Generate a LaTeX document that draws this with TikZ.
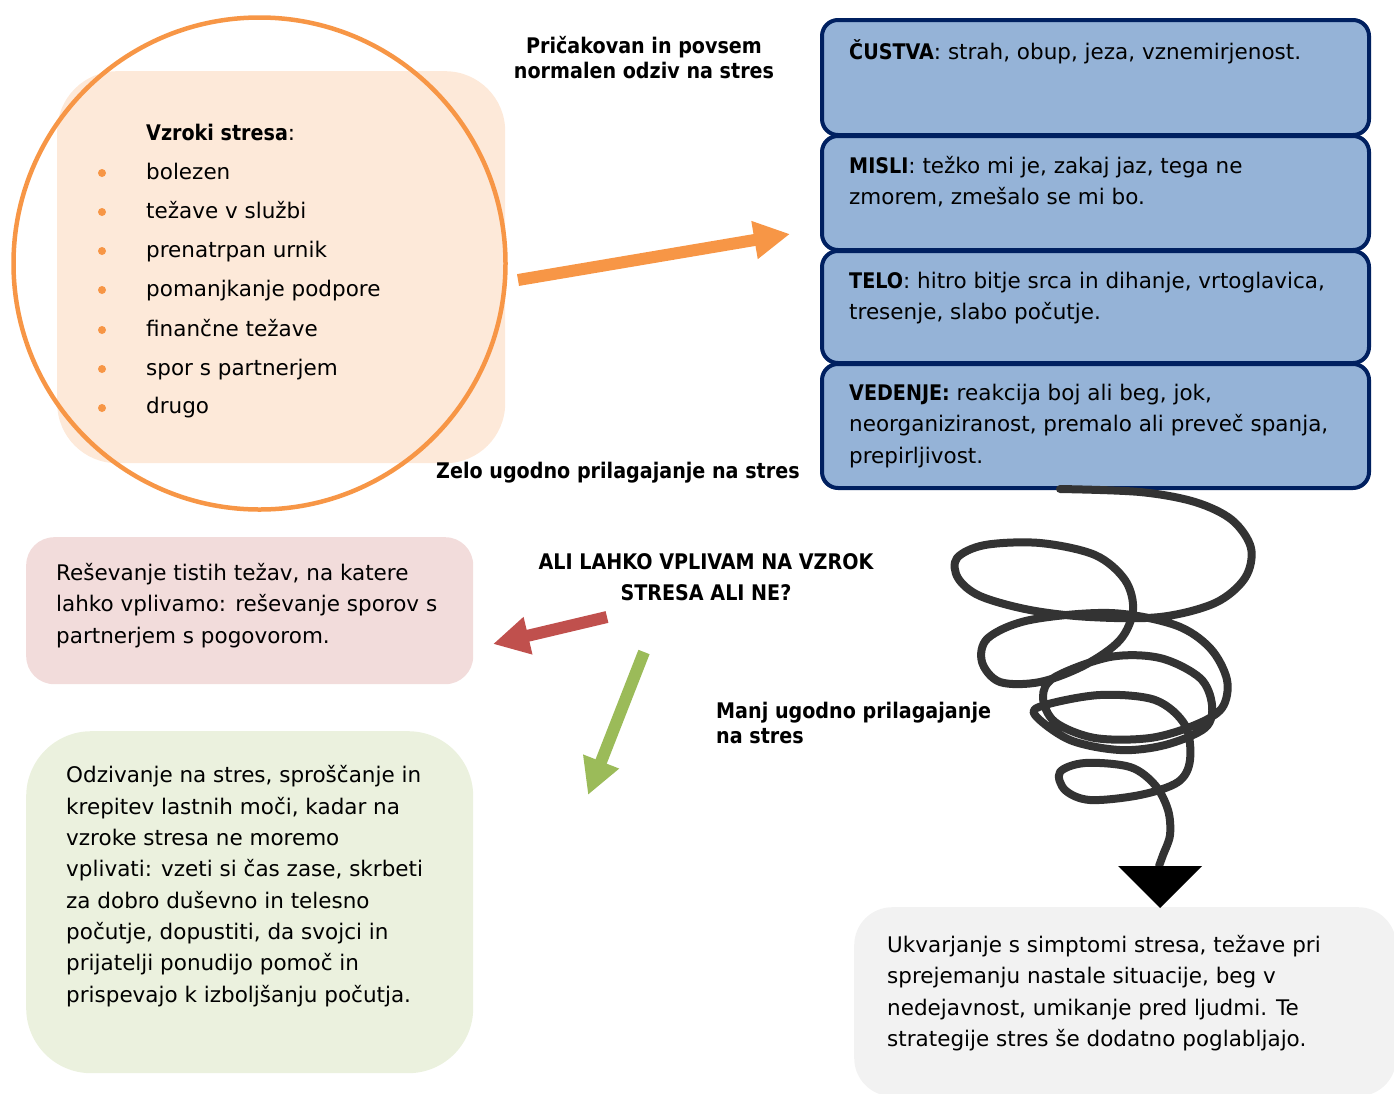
\documentclass[tikz,border=0pt]{standalone}
\usepackage{fontspec}
\setmainfont{DejaVu Sans}
\newfontfamily\lblfont{DejaVu Sans}[FakeStretch=0.89]
\usetikzlibrary{arrows.meta}
\definecolor{orng}{HTML}{F79646}
\definecolor{peach}{HTML}{FDE9D9}
\definecolor{navy}{HTML}{002060}
\definecolor{skyfill}{HTML}{95B3D7}
\definecolor{rosefill}{HTML}{F2DCDB}
\definecolor{redarr}{HTML}{C0504D}
\definecolor{greenarr}{HTML}{9BBB59}
\definecolor{sagefill}{HTML}{EBF1DE}
\definecolor{greyfill}{HTML}{F2F2F2}
\definecolor{scrib}{HTML}{333333}
\newcommand{\bodysize}{\fontsize{21.5}{31.5}\selectfont}
\newcommand{\lbl}[1]{{\lblfont\bfseries #1}}

\begin{document}
\begin{tikzpicture}[x=1pt,y=-1pt,line cap=round,line join=round,
  txt/.style={inner sep=0pt,font=\bodysize,align=left,anchor=base west},
  head/.style={inner sep=0pt,font={\lblfont\bfseries\fontsize{21.5}{25.5}\selectfont},align=center,anchor=base},
  blk/.style={line width=12pt,line cap=butt,-{Triangle[length=36pt,width=36pt]}},
  panel/.style={inner sep=0pt,anchor=north west},
  bluebox/.style={panel,draw=navy,fill=skyfill,line width=4pt,rounded corners=16pt,minimum width=547pt},
  scribble/.style={draw=scrib,line width=8pt}]
\useasboundingbox (0,0) rectangle (1394,1093);
\clip (0,0) rectangle (1394,1093);

% multi-line nodes sit on the baseline of their last line
\node[panel,fill=peach,rounded corners=60pt,minimum width=448pt,minimum height=392pt] (causes) at (57,71) {};
\node[circle,draw=orng,line width=4.5pt,minimum size=492pt,inner sep=0pt] (ring) at (259.5,263.5) {};
\node[txt] (causesT) at (146,140) {\lbl{Vzroki stresa}:};
\fill[orng] (102,173) circle (4);
\fill[orng] (102,212) circle (4);
\fill[orng] (102,251) circle (4);
\fill[orng] (102,290) circle (4);
\fill[orng] (102,330) circle (4);
\fill[orng] (102,369) circle (4);
\fill[orng] (102,408) circle (4);
\node[txt] (c1) at (146,179) {bolezen};
\node[txt] (c2) at (146,218) {težave v službi};
\node[txt] (c3) at (146,257) {prenatrpan urnik};
\node[txt] (c4) at (146,296) {pomanjkanje podpore};
\node[txt] (c5) at (146,336) {finančne težave};
\node[txt] (c6) at (146,375) {spor s partnerjem};
\node[txt] (c7) at (146,413) {drugo};

\node[bluebox,minimum height=115pt] (custva) at (820,18) {};
\node[bluebox,minimum height=114pt] (misli) at (820,134) {};
\node[bluebox,minimum height=112pt] (telo) at (820,249) {};
\node[bluebox,minimum height=124pt] (vedenje) at (820,362) {};
\node[txt] (custvaT) at (849,59) {\lbl{ČUSTVA}: strah, obup, jeza, vznemirjenost.};
\node[txt] (misliT) at (849,204.5) {\lbl{MISLI}: težko mi je, zakaj jaz, tega ne\\zmorem, zmešalo se mi bo.};
\node[txt] (teloT) at (849,319.5) {\lbl{TELO}: hitro bitje srca in dihanje, vrtoglavica,\\tresenje, slabo počutje.};
\node[txt] (vedenjeT) at (849,463) {\lbl{VEDENJE:} reakcija boj ali beg, jok,\\neorganiziranost, premalo ali preveč spanja,\\prepirljivost.};

\node[head] (expected) at (644,78.5) {Pričakovan in povsem\\normalen odziv na stres};
\node[head,anchor=base west] (good) at (436,478) {Zelo ugodno prilagajanje na stres};
\node[head,font={\lblfont\bfseries\fontsize{21.5}{31}\selectfont}] (question) at (706,600) {ALI LAHKO VPLIVAM NA VZROK\\STRESA ALI NE?};
\node[head,anchor=base west,align=left] (bad) at (716,743.5) {Manj ugodno prilagajanje\\na stres};

\node[panel,fill=rosefill,rounded corners=28pt,minimum width=447pt,minimum height=147pt] (solve) at (26,537) {};
\node[txt] (solveT) at (56,643) {Reševanje tistih težav, na katere\\lahko vplivamo: reševanje sporov s\\partnerjem s pogovorom.};
\node[panel,fill=sagefill,rounded corners=65pt,minimum width=447pt,minimum height=342pt] (cope) at (26,731) {};
\node[txt,font={\fontsize{21.5}{31.3}\selectfont}] (copeT) at (66,1002) {Odzivanje na stres, sproščanje in\\krepitev lastnih moči, kadar na\\vzroke stresa ne moremo\\vplivati: vzeti si čas zase, skrbeti\\za dobro duševno in telesno\\počutje, dopustiti, da svojci in\\prijatelji ponudijo pomoč in\\prispevajo k izboljšanju počutja.};
\node[panel,fill=greyfill,rounded corners=38pt,minimum width=542pt,minimum height=189pt] (symptoms) at (854,907) {};
\node[txt] (symptomsT) at (887,1046.5) {Ukvarjanje s simptomi stresa, težave pri\\sprejemanju nastale situacije, beg v\\nedejavnost, umikanje pred ljudmi. Te\\strategije stres še dodatno poglabljajo.};

\coordinate (oA) at (518,280);
\coordinate (oB) at (790,234);
\draw[blk,orng] (oA) -- (oB);
\coordinate (rA) at (607,617);
\coordinate (rB) at (493,644);
\draw[blk,redarr] (rA) -- (rB);
\coordinate (gA) at (644,652);
\coordinate (gB) at (588,795);
\draw[blk,greenarr] (gA) -- (gB);

\coordinate (sq) at (1060,489);
\coordinate (tip) at (1160,908);
\draw[scribble] plot[smooth,tension=0.55] coordinates {(sq) (1140,492) (1195,502) (1232,520) (1251,548) (1245,578) (1215,603) (1160,617) (1090,617) (1030,610) (980,596) (958,578) (957,558) (985,545) (1040,543) (1095,555) (1125,580) (1133,610) (1120,640) (1085,665) (1040,682) (1000,682) (982,662) (988,638) (1030,620) (1110,613) (1175,625) (1210,648) (1227,680) (1222,708) (1195,725) (1150,738) (1095,738) (1055,722) (1043,697) (1055,677) (1110,657) (1160,658) (1200,678) (1212,705) (1205,728) (1165,745) (1120,750) (1070,740) (1035,715) (1045,705) (1100,695) (1155,700) (1185,725) (1190,760) (1178,782) (1140,795) (1090,800) (1065,790) (1060,772) (1085,763) (1130,767) (1155,785) (1168,810) (1170,835) (1163,855) (1159,866)};
\fill (1118,866) -- (1202,866) -- (tip) -- cycle;
\end{tikzpicture}
\end{document}
